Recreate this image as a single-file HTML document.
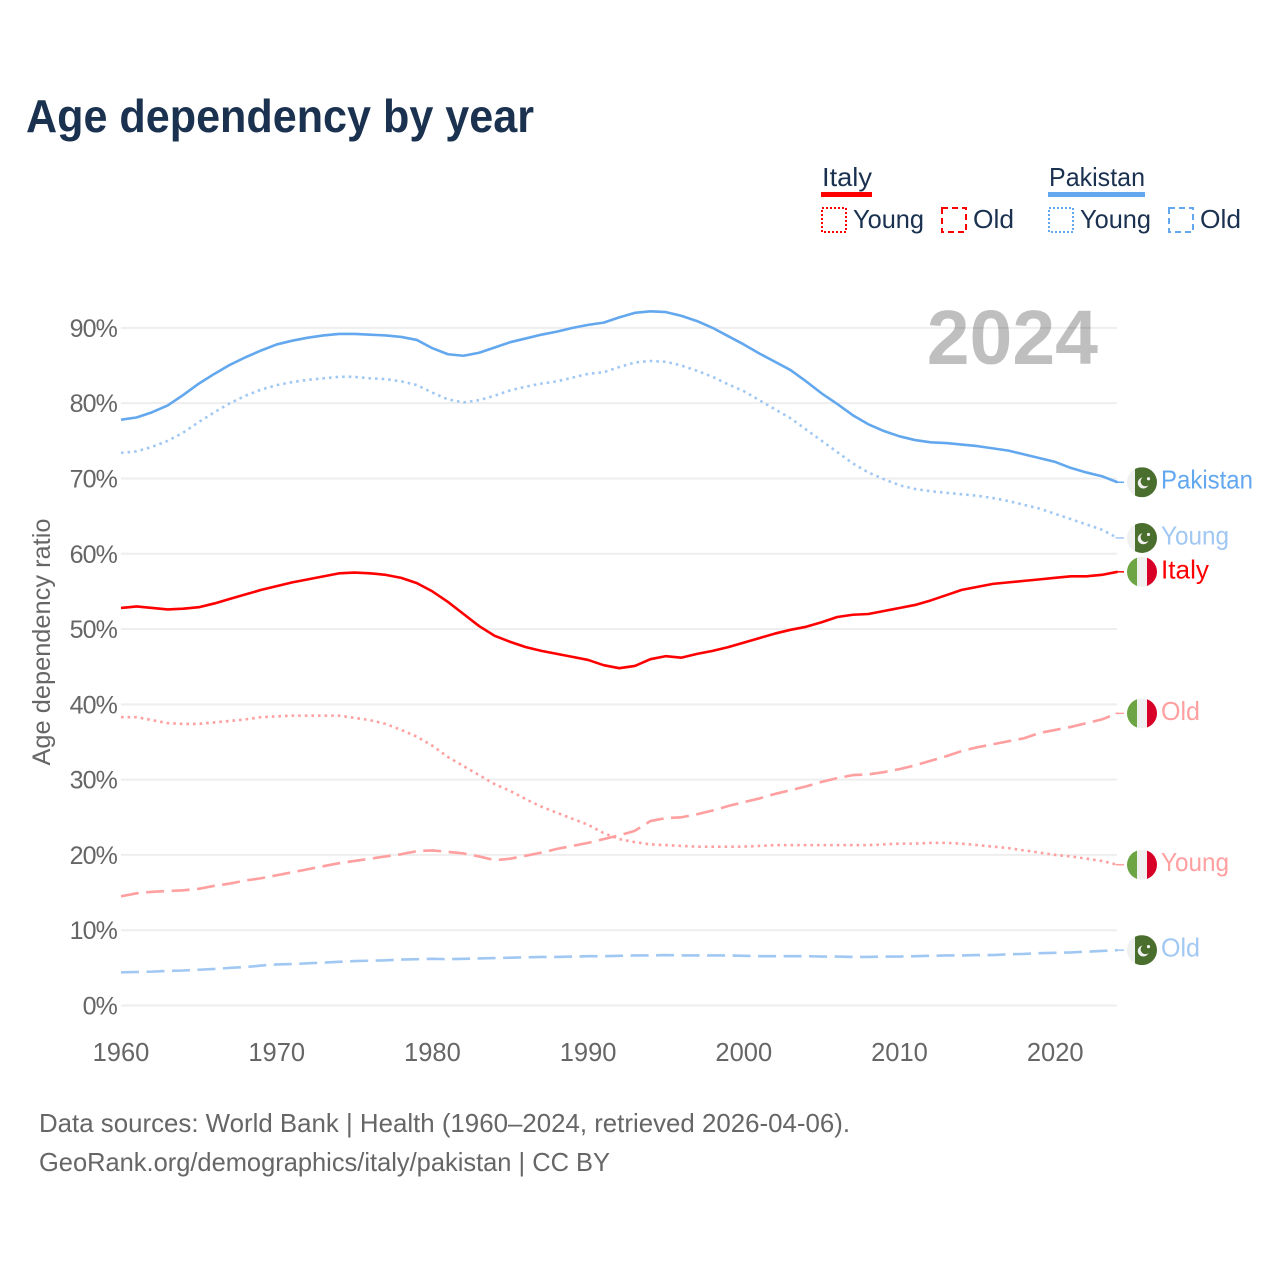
<!DOCTYPE html>
<html lang="en">
<head>
<meta charset="utf-8">
<title>Age dependency by year</title>
<style>
html,body{margin:0;padding:0;background:#fff;}
svg{display:block;}
text{font-family:"Liberation Sans",sans-serif;}
</style>
</head>
<body>
<svg id="chart" xmlns="http://www.w3.org/2000/svg" width="1280" height="1280" viewBox="0 0 1280 1280">
  <defs><clipPath id="flag-clip"><circle cx="0" cy="0" r="15"></circle></clipPath></defs>
  <rect x="0" y="0" width="1280" height="1280" fill="#fff"></rect>
  <text x="26" y="132" font-size="46" font-weight="700" fill="#1a3150" textLength="508" lengthAdjust="spacingAndGlyphs">Age dependency by year</text>

  <g>
    <g>
      <text x="822" y="186" font-size="26" fill="#1a3150" textLength="50" lengthAdjust="spacingAndGlyphs">Italy</text>
      <rect x="821" y="192" width="51" height="5" fill="#ff0000"></rect>
    </g>
    <g>
      <rect x="822" y="208" width="24" height="24" fill="none" stroke="#ff0000" stroke-width="2" stroke-dasharray="2 2"></rect>
      <text x="853" y="228" font-size="26" fill="#1a3150" textLength="71" lengthAdjust="spacingAndGlyphs">Young</text>
    </g>
    <g>
      <rect x="942" y="208" width="24" height="24" fill="none" stroke="#ff0000" stroke-width="2" stroke-dasharray="6 4"></rect>
      <text x="973" y="228" font-size="26" fill="#1a3150" textLength="41" lengthAdjust="spacingAndGlyphs">Old</text>
    </g>
    <g>
      <text x="1049" y="186" font-size="26" fill="#1a3150" textLength="96" lengthAdjust="spacingAndGlyphs">Pakistan</text>
      <rect x="1048" y="192" width="97" height="5" fill="#63a8ee"></rect>
    </g>
    <g>
      <rect x="1049" y="208" width="24" height="24" fill="none" stroke="#63a8ee" stroke-width="2" stroke-dasharray="2 2"></rect>
      <text x="1080" y="228" font-size="26" fill="#1a3150" textLength="71" lengthAdjust="spacingAndGlyphs">Young</text>
    </g>
    <g>
      <rect x="1169" y="208" width="24" height="24" fill="none" stroke="#63a8ee" stroke-width="2" stroke-dasharray="6 4"></rect>
      <text x="1200" y="228" font-size="26" fill="#1a3150" textLength="41" lengthAdjust="spacingAndGlyphs">Old</text>
    </g>
  </g>

  <g id="grid"></g>
  <g id="y-ticks"></g>
  <g id="x-ticks"></g>
  <text transform="translate(50,642) rotate(-90)" text-anchor="middle" font-size="25" fill="#666" textLength="247" lengthAdjust="spacingAndGlyphs">Age dependency ratio</text>
  <g id="series"></g>
  <text x="1098" y="364" text-anchor="end" font-size="77" font-weight="700" fill="#000" fill-opacity="0.25">2024</text>
  <g id="end-labels"></g>

  <text x="39" y="1132" font-size="26" fill="#666" textLength="811" lengthAdjust="spacingAndGlyphs">Data sources: World Bank | Health (1960–2024, retrieved 2026-04-06).</text>
  <text x="39" y="1171" font-size="26" fill="#666" textLength="571" lengthAdjust="spacingAndGlyphs">GeoRank.org/demographics/italy/pakistan | CC BY</text>
</svg>
<script>
const startYear = 1960;
const xTickYears = [1960, 1970, 1980, 1990, 2000, 2010, 2020];
const yTickValues = [0, 10, 20, 30, 40, 50, 60, 70, 80, 90];

const pakistanTotal = [77.8,78.1,78.8,79.7,81.1,82.6,83.9,85.1,86.1,87.0,87.8,88.3,88.7,89.0,89.2,89.2,89.1,89.0,88.8,88.4,87.3,86.5,86.3,86.7,87.4,88.1,88.6,89.1,89.5,90.0,90.4,90.7,91.4,92.0,92.2,92.1,91.6,90.9,90.0,88.9,87.8,86.6,85.5,84.4,82.9,81.3,79.9,78.4,77.2,76.3,75.6,75.1,74.8,74.7,74.5,74.3,74.0,73.7,73.2,72.7,72.2,71.4,70.8,70.3,69.5];
const pakistanYoung = [73.4,73.6,74.2,75.0,76.1,77.5,78.8,80.0,81.0,81.8,82.4,82.8,83.1,83.3,83.5,83.5,83.3,83.2,82.9,82.4,81.4,80.5,80.1,80.4,81.0,81.7,82.2,82.6,82.9,83.4,83.9,84.1,84.8,85.4,85.6,85.5,85.0,84.3,83.5,82.5,81.6,80.4,79.2,78.0,76.5,75.0,73.5,72.0,70.8,69.9,69.1,68.6,68.3,68.1,67.9,67.7,67.4,67.0,66.5,66.0,65.3,64.6,63.9,63.2,62.1];
const pakistanOld = [4.4,4.45,4.5,4.6,4.65,4.75,4.85,5.0,5.1,5.3,5.45,5.5,5.6,5.7,5.8,5.9,5.95,6.0,6.1,6.15,6.2,6.15,6.2,6.25,6.3,6.35,6.4,6.45,6.45,6.5,6.55,6.55,6.6,6.65,6.65,6.7,6.65,6.65,6.65,6.65,6.6,6.55,6.55,6.55,6.55,6.5,6.5,6.45,6.45,6.5,6.5,6.55,6.6,6.65,6.65,6.7,6.7,6.8,6.85,6.95,7.0,7.05,7.15,7.25,7.35];
const italyTotal = [52.8,53.0,52.8,52.6,52.7,52.9,53.4,54.0,54.6,55.2,55.7,56.2,56.6,57.0,57.4,57.5,57.4,57.2,56.8,56.1,55.0,53.6,52.0,50.4,49.1,48.3,47.6,47.1,46.7,46.3,45.9,45.2,44.8,45.1,46.0,46.4,46.2,46.7,47.1,47.6,48.2,48.8,49.4,49.9,50.3,50.9,51.6,51.9,52.0,52.4,52.8,53.2,53.8,54.5,55.2,55.6,56.0,56.2,56.4,56.6,56.8,57.0,57.0,57.2,57.6];
const italyYoung = [38.3,38.3,37.9,37.5,37.4,37.4,37.6,37.8,38.0,38.3,38.4,38.5,38.5,38.5,38.5,38.2,37.9,37.4,36.6,35.7,34.5,33.0,31.8,30.6,29.4,28.5,27.4,26.4,25.6,24.8,24.0,22.9,22.1,21.7,21.4,21.3,21.2,21.1,21.1,21.1,21.1,21.2,21.3,21.3,21.3,21.3,21.3,21.3,21.3,21.4,21.5,21.5,21.6,21.6,21.5,21.3,21.1,20.9,20.6,20.3,20.0,19.8,19.5,19.2,18.7];
const italyOld = [14.5,14.9,15.1,15.2,15.3,15.5,15.9,16.2,16.6,16.9,17.3,17.7,18.1,18.5,18.9,19.2,19.5,19.8,20.1,20.5,20.6,20.4,20.2,19.8,19.3,19.5,19.9,20.3,20.8,21.2,21.6,22.1,22.6,23.2,24.5,24.9,25.0,25.4,25.9,26.5,27.0,27.5,28.1,28.6,29.1,29.7,30.2,30.6,30.7,31.0,31.4,31.9,32.5,33.1,33.8,34.3,34.7,35.1,35.5,36.2,36.6,37.0,37.5,38.0,38.8];

const svgNS = 'http://www.w3.org/2000/svg';
const xScale = function (year) { return 121 + (year - 1960) * 15.57; };
const yScale = function (value) { return 1005.5 - value * 7.529; };

function make(tag, attrs, parent) {
  const el = document.createElementNS(svgNS, tag);
  for (const key in attrs) { el.setAttribute(key, attrs[key]); }
  parent.appendChild(el);
  return el;
}

const gridGroup = document.getElementById('grid');
const yTickGroup = document.getElementById('y-ticks');
yTickValues.forEach(function (value) {
  const line = make('line', {x1: 121, x2: 1117, y1: yScale(value), y2: yScale(value), stroke: '#eeeeee', 'stroke-width': 2}, gridGroup);
  
  
  const label = make('text', {x: 117, y: yScale(value) + 9, 'text-anchor': 'end', 'font-size': 25, fill: '#666', 'letter-spacing': -0.9}, yTickGroup);
  label.textContent = value + '%';
  
  
});

const xTickGroup = document.getElementById('x-ticks');
xTickYears.forEach(function (year) {
  const label = make('text', {x: xScale(year), y: 1061, 'text-anchor': 'middle', 'font-size': 25.5, fill: '#666'}, xTickGroup);
  label.textContent = String(year);
  
  
});

const seriesGroup = document.getElementById('series');
function drawSeries(values, name, color, dash) {
  const pts = values.map(function (v, i) { return xScale(startYear + i).toFixed(2) + ',' + yScale(v).toFixed(2); }).join(' ');
  const attrs = {points: pts, fill: 'none', stroke: color, 'stroke-width': 2.6, 'stroke-linejoin': 'round'};
  if (dash) { attrs['stroke-dasharray'] = dash; }
  const line = make('polyline', attrs, seriesGroup);
  
  
  const lastY = yScale(values[values.length - 1]);
  const stub = make('line', {x1: xScale(startYear + values.length - 1) - 2, x2: 1124, y1: lastY, y2: lastY, stroke: color, 'stroke-width': 1.5}, seriesGroup);
  
  
}
const DOT = '2.6 4';
const DASH = '18 7.5';
drawSeries(pakistanOld, 'line-pakistan-old', '#a1c8f3', DASH);
drawSeries(italyOld, 'line-italy-old', '#ff9f9f', DASH);
drawSeries(italyYoung, 'line-italy-young', '#ff9f9f', DOT);
drawSeries(pakistanYoung, 'line-pakistan-young', '#a1c8f3', DOT);
drawSeries(italyTotal, 'line-italy-total', '#ff0000', null);
drawSeries(pakistanTotal, 'line-pakistan-total', '#63a8ee', null);

const labelGroup = document.getElementById('end-labels');
function drawFlag(country, cy, name) {
  const g = make('g', {transform: 'translate(1142,' + cy + ')', 'clip-path': 'url(#flag-clip)'}, labelGroup);
  
  
  if (country === 'italy') {
    make('rect', {x: -15, y: -15, width: 10, height: 30, fill: '#6da544'}, g);
    make('rect', {x: -5, y: -15, width: 10, height: 30, fill: '#f0f0f0'}, g);
    make('rect', {x: 5, y: -15, width: 10, height: 30, fill: '#d80027'}, g);
  } else {
    make('rect', {x: -15, y: -15, width: 8, height: 30, fill: '#f0f0f0'}, g);
    make('rect', {x: -7, y: -15, width: 22, height: 30, fill: '#496e2d'}, g);
    make('circle', {cx: 1.3, cy: 0.8, r: 5.5, fill: '#f0f0f0'}, g);
    make('circle', {cx: 3.4, cy: -0.8, r: 4.8, fill: '#496e2d'}, g);
    make('circle', {cx: 6.5, cy: -3.5, r: 1.6, fill: '#f0f0f0'}, g);
  }
}
function drawEndLabel(text, values, country, color, width, name) {
  const y = yScale(values[values.length - 1]);
  drawFlag(country, y, name + '-flag');
  const label = make('text', {x: 1161, y: y + 6.5, 'font-size': 26, fill: color, textLength: width, lengthAdjust: 'spacingAndGlyphs'}, labelGroup);
  label.textContent = text;
  
  
}
drawEndLabel('Pakistan', pakistanTotal, 'pakistan', '#63a8ee', 92, 'pakistan-total');
drawEndLabel('Young', pakistanYoung, 'pakistan', '#a1c8f3', 68, 'pakistan-young');
drawEndLabel('Italy', italyTotal, 'italy', '#ff0000', 48, 'italy-total');
drawEndLabel('Old', italyOld, 'italy', '#ff9f9f', 39, 'italy-old');
drawEndLabel('Young', italyYoung, 'italy', '#ff9f9f', 68, 'italy-young');
drawEndLabel('Old', pakistanOld, 'pakistan', '#a1c8f3', 39, 'pakistan-old');
</script>
</body>
</html>
